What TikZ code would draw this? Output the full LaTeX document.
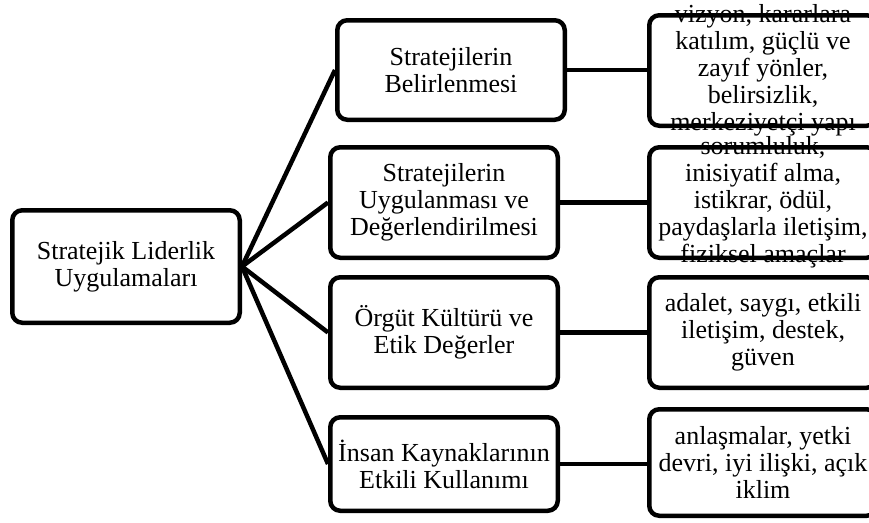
\documentclass[tikz,border=0pt]{standalone}
\usepackage{fontspec}
\setmainfont{Liberation Serif}
\begin{document}
\begin{tikzpicture}[x=1pt,y=-1pt,
  box/.style={draw=black, line width=4.5pt, rounded corners=10pt, fill=white, minimum width=227.5pt, inner sep=0pt},
  txt/.style={align=center, inner sep=0pt, font=\fontsize{26}{27}\selectfont},
  link/.style={draw=black, line width=4.5pt}]
\useasboundingbox (0,0) rectangle (869,522);
% boxes
\node[box, minimum height=112.5pt] (L) at (126,266.5) {};
\node[box, minimum height=99.5pt] (M1) at (451,70) {};
\node[box, minimum height=110.5pt] (M2) at (444,202.5) {};
\node[box, minimum height=110.5pt] (M3) at (444,332.5) {};
\node[box, minimum height=93.5pt] (M4) at (444,464) {};
\node[box, minimum height=110.5pt] (R1) at (763,70.5) {};
\node[box, minimum height=110.5pt] (R2) at (763,202.5) {};
\node[box, minimum height=110.5pt] (R3) at (763,332.5) {};
\node[box, minimum height=106.5pt] (R4) at (763,462.5) {};
% connectors
\draw[link] (L.east) -- (M1.west);
\draw[link] (L.east) -- (M2.west);
\draw[link] (L.east) -- (M3.west);
\draw[link] (L.east) -- (M4.west);
\draw[link] (M1.east) -- (M1.east -| R1.west);
\draw[link] (M2.east) -- (M2.east -| R2.west);
\draw[link] (M3.east) -- (M3.east -| R3.west);
\draw[link] (M4.east) -- (M4.east -| R4.west);
% texts
\node[txt] (Lt) at (L) {Stratejik Liderlik\\Uygulamaları};
\node[txt] (M1t) at (M1) {Stratejilerin\\Belirlenmesi};
\node[txt] (M2t) at (M2) {Stratejilerin\\Uygulanması ve\\Değerlendirilmesi};
\node[txt] (M3t) at (M3) {Örgüt Kültürü ve\\Etik Değerler};
\node[txt] (M4t) at (M4) {İnsan Kaynaklarının\\Etkili Kullanımı};
\node[txt] (R1t) at (R1) {vizyon, kararlara\\katılım, güçlü ve\\zayıf yönler,\\belirsizlik,\\merkeziyetçi yapı};
\node[txt] (R2t) at (R2) {sorumluluk,\\inisiyatif alma,\\istikrar, ödül,\\paydaşlarla iletişim,\\fiziksel amaçlar};
\node[txt] (R3t) at (R3) {adalet, saygı, etkili\\iletişim, destek,\\güven};
\node[txt] (R4t) at (R4) {anlaşmalar, yetki\\devri, iyi ilişki, açık\\iklim};
\end{tikzpicture}
\end{document}
